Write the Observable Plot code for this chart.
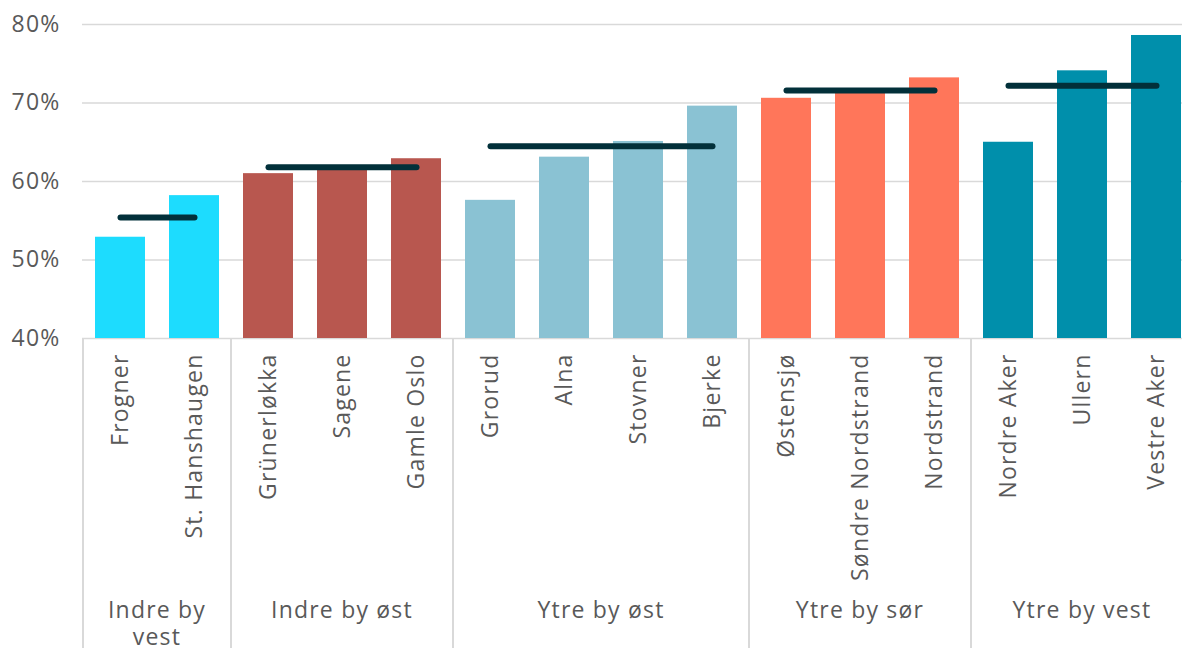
<!DOCTYPE html>
<html><head><meta charset="utf-8">
<script src="https://cdn.jsdelivr.net/npm/d3@7"></script>
<script src="https://cdn.jsdelivr.net/npm/@observablehq/plot@0.6"></script>
<style>html,body{margin:0;padding:0;background:#fff;overflow:hidden;} svg text{letter-spacing:1.2px;}</style>
</head><body><div id="chart"></div>
<script>
// ---- data ----
const districts = ["Frogner","St. Hanshaugen","Grünerløkka","Sagene","Gamle Oslo","Grorud","Alna","Stovner","Bjerke","Østensjø","Søndre Nordstrand","Nordstrand","Nordre Aker","Ullern","Vestre Aker"];
const districtGroups = ["Indre by vest","Indre by vest","Indre by øst","Indre by øst","Indre by øst","Ytre by øst","Ytre by øst","Ytre by øst","Ytre by øst","Ytre by sør","Ytre by sør","Ytre by sør","Ytre by vest","Ytre by vest","Ytre by vest"];
const values = [0.529, 0.582, 0.610, 0.615, 0.629, 0.576, 0.631, 0.651, 0.696, 0.706, 0.715, 0.732, 0.650, 0.741, 0.786];
const groups = ["Indre by vest","Indre by øst","Ytre by øst","Ytre by sør","Ytre by vest"];
const groupAverages = [0.554, 0.618, 0.645, 0.716, 0.722];
const yTicks = [0.4, 0.5, 0.6, 0.7, 0.8];
const groupColors = ["#1ddcfe","#b8574f","#8ac2d3","#ff765a","#008fab"];

// ---- tables built from the arrays ----
const rows = districts.map((d, i) => ({district: d, group: districtGroups[i], value: values[i]}));
const groupInfo = groups.map((g, i) => {
  const members = districts.filter((d, j) => districtGroups[j] === g);
  return {group: g, first: members[0], last: members[members.length - 1], avg: groupAverages[i]};
});
const avgRows = groupInfo.flatMap(g => [
  {group: g.group, district: g.first, avg: g.avg},
  {group: g.group, district: g.last, avg: g.avg}
]);

const FONT = "'Open Sans', sans-serif";
const FS = 23;
const TEXT = "#595959";
const RULE = "#d9d9d9";

function groupMark(index, scales, vals, dims) {
  const x = scales.x;
  const bw = typeof x.bandwidth === "function" ? x.bandwidth() : 0;
  const c = d => x(d) + bw / 2;
  const step = c(districts[1]) - c(districts[0]);
  const yTop = dims.height - dims.marginBottom;
  const g = d3.create("svg:g");
  groupInfo.forEach((gi, k) => {
    const left = c(gi.first) - step / 2;
    const right = c(gi.last) + step / 2;
    g.append("line").attr("x1", left).attr("x2", left).attr("y1", yTop).attr("y2", dims.height)
      .attr("stroke", RULE).attr("stroke-width", 2);
    if (k === groupInfo.length - 1) {
      g.append("line").attr("x1", right).attr("x2", right).attr("y1", yTop).attr("y2", dims.height)
        .attr("stroke", RULE).attr("stroke-width", 2);
    }
    // naive wrapping
    const avail = right - left - 20;
    const words = gi.group.split(" ");
    const lines = [];
    let cur = "";
    for (const w of words) {
      const test = cur ? cur + " " + w : w;
      if (test.length * 0.58 * FS > avail && cur) { lines.push(cur); cur = w; }
      else cur = test;
    }
    lines.push(cur);
    const t = g.append("text").attr("x", (left + right) / 2).attr("y", yTop + 280)
      .attr("text-anchor", "middle").attr("fill", TEXT)
      .attr("font-family", FONT).attr("font-size", FS);
    lines.forEach((ln, i) => {
      t.append("tspan").attr("x", (left + right) / 2).attr("dy", i === 0 ? 0 : 27).text(ln);
    });
  });
  return g.node();
}

const chart = Plot.plot({
  width: 1182, height: 648,
  marginTop: 24, marginBottom: 310, marginLeft: 82, marginRight: 0,
  style: {fontFamily: FONT, fontSize: FS + "px", color: TEXT, background: "#fff", overflow: "visible"},
  x: {domain: districts, range: [82, 1194], paddingInner: 0.326, paddingOuter: 0.163, label: null},
  y: {domain: [0.4, 0.8], label: null},
  color: {domain: groups, range: groupColors},
  marks: [
    Plot.gridY(yTicks, {stroke: RULE, strokeOpacity: 1, strokeWidth: 1.5}),
    Plot.axisY(yTicks, {tickFormat: d3.format(".0%"), tickSize: 0, tickPadding: 22, fontSize: FS, label: null}),
    Plot.barY(rows, {x: "district", y1: 0.4, y2: "value", fill: "group"}),
    Plot.lineY(avgRows, {x: "district", y: "avg", z: "group", stroke: "#02303a", strokeWidth: 6, strokeLinecap: "round"}),
    Plot.axisX({tickRotate: -90, tickSize: 0, tickPadding: 15, fontSize: FS, label: null}),
    groupMark
  ]
});
document.getElementById("chart").appendChild(chart);
</script>
</body></html>
